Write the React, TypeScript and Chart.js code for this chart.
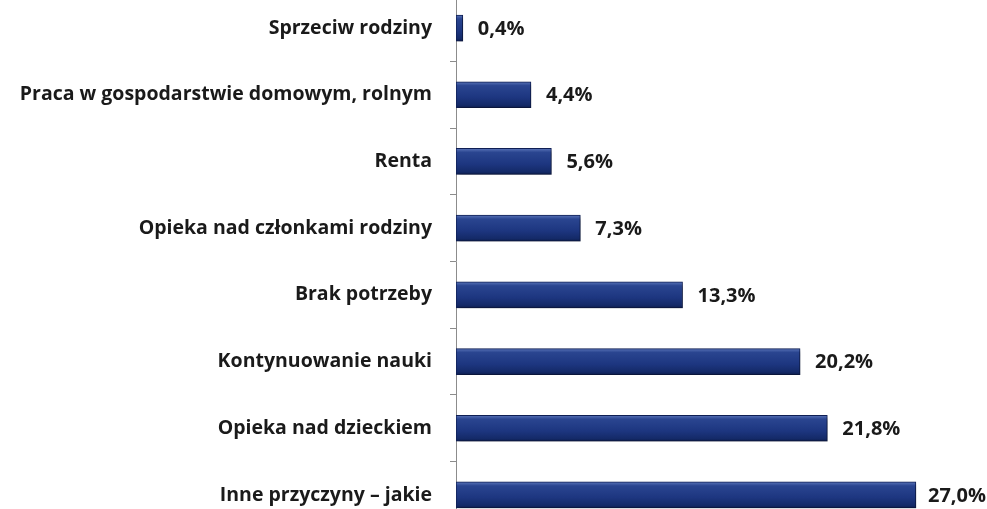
import React, { useEffect, useRef } from "react";
import { Chart, registerables } from "chart.js";

Chart.register(...registerables);

const categories = [
  "Sprzeciw rodziny",
  "Praca w gospodarstwie domowym, rolnym",
  "Renta",
  "Opieka nad członkami rodziny",
  "Brak potrzeby",
  "Kontynuowanie nauki",
  "Opieka nad dzieckiem",
  "Inne przyczyny – jakie",
];
const values = [0.4, 4.4, 5.6, 7.3, 13.3, 20.2, 21.8, 27.0];
const valueLabels = ["0,4%", "4,4%", "5,6%", "7,3%", "13,3%", "20,2%", "21,8%", "27,0%"];

const FONT = "'Open Sans', Lato, sans-serif";

export default function App() {
  const ref = useRef<HTMLCanvasElement | null>(null);
  useEffect(() => {
    if (!ref.current) return;
    const shadowPlugin = {
      id: "shadow",
      beforeDatasetDraw(chart: any) {
        const c = chart.ctx;
        c.save();
        c.shadowColor = "rgba(0,0,0,0.35)";
        c.shadowBlur = 4;
        c.shadowOffsetX = 2;
        c.shadowOffsetY = 3;
      },
      afterDatasetDraw(chart: any) {
        chart.ctx.restore();
      },
    };
    const labelPlugin = {
      id: "vlabels",
      afterDatasetsDraw(chart: any) {
        const c = chart.ctx;
        const meta = chart.getDatasetMeta(0);
        c.save();
        c.font = `bold 20px ${FONT}`;
        c.fillStyle = "#1a1a1a";
        c.textAlign = "left";
        c.textBaseline = "middle";
        meta.data.forEach((bar: any, i: number) => {
          const w = c.measureText(valueLabels[i]).width;
          const x = Math.min(bar.x + 15, chart.width - w - 1);
          c.fillText(valueLabels[i], x, bar.y + 1);
        });
        c.restore();
      },
    };
    const chart = new Chart(ref.current, {
      type: "bar",
      data: {
        labels: categories,
        datasets: [
          {
            data: values,
            backgroundColor: (ctx: any) => {
              const ch = ctx.chart;
              const ys = ch.scales && ch.scales.y;
              if (!ys || ctx.dataIndex === undefined) return "#1F3A80";
              const cy = ys.getPixelForValue(ctx.dataIndex);
              if (!isFinite(cy)) return "#1F3A80";
              const g = ch.ctx.createLinearGradient(0, cy - 13, 0, cy + 13);
              g.addColorStop(0, "#5a74b8");
              g.addColorStop(0.15, "#2a4590");
              g.addColorStop(0.6, "#1d3680");
              g.addColorStop(0.9, "#142a68");
              g.addColorStop(1, "#0d1d4e");
              return g;
            },
            borderColor: "#0f1f55",
            borderWidth: 1,
            borderSkipped: false,
            barThickness: 26,
          },
        ],
      },
      options: {
        indexAxis: "y",
        animation: false,
        responsive: false,
        maintainAspectRatio: false,
        layout: { padding: { left: 0, right: 20, top: 0, bottom: 0 } },
        plugins: {
          legend: { display: false },
          tooltip: { enabled: false },
        },
        scales: {
          x: {
            display: false,
            min: 0,
            max: 30,
          },
          y: {
            afterFit: (s: any) => {
              s.width = 456;
            },
            border: { display: true, color: "#8c8c8c", width: 1 },
            grid: {
              display: true,
              drawOnChartArea: false,
              drawTicks: true,
              tickLength: 6,
              color: "#8c8c8c",
              offset: true,
            },
            ticks: {
              color: "#1a1a1a",
              font: { family: FONT, size: 19.5, weight: "bold" },
              padding: 18,
            },
          },
        },
      },
      plugins: [shadowPlugin, labelPlugin],
    });
    return () => chart.destroy();
  }, []);
  return (
    <div
      style={{
        position: "absolute",
        left: 0,
        top: 0,
        width: 987,
        height: 509,
        overflow: "hidden",
        background: "#ffffff",
      }}
    >
      <canvas
        ref={ref}
        width={987}
        height={593}
        style={{ position: "absolute", left: 0, top: -35, width: 987, height: 593 }}
      />
    </div>
  );
}
